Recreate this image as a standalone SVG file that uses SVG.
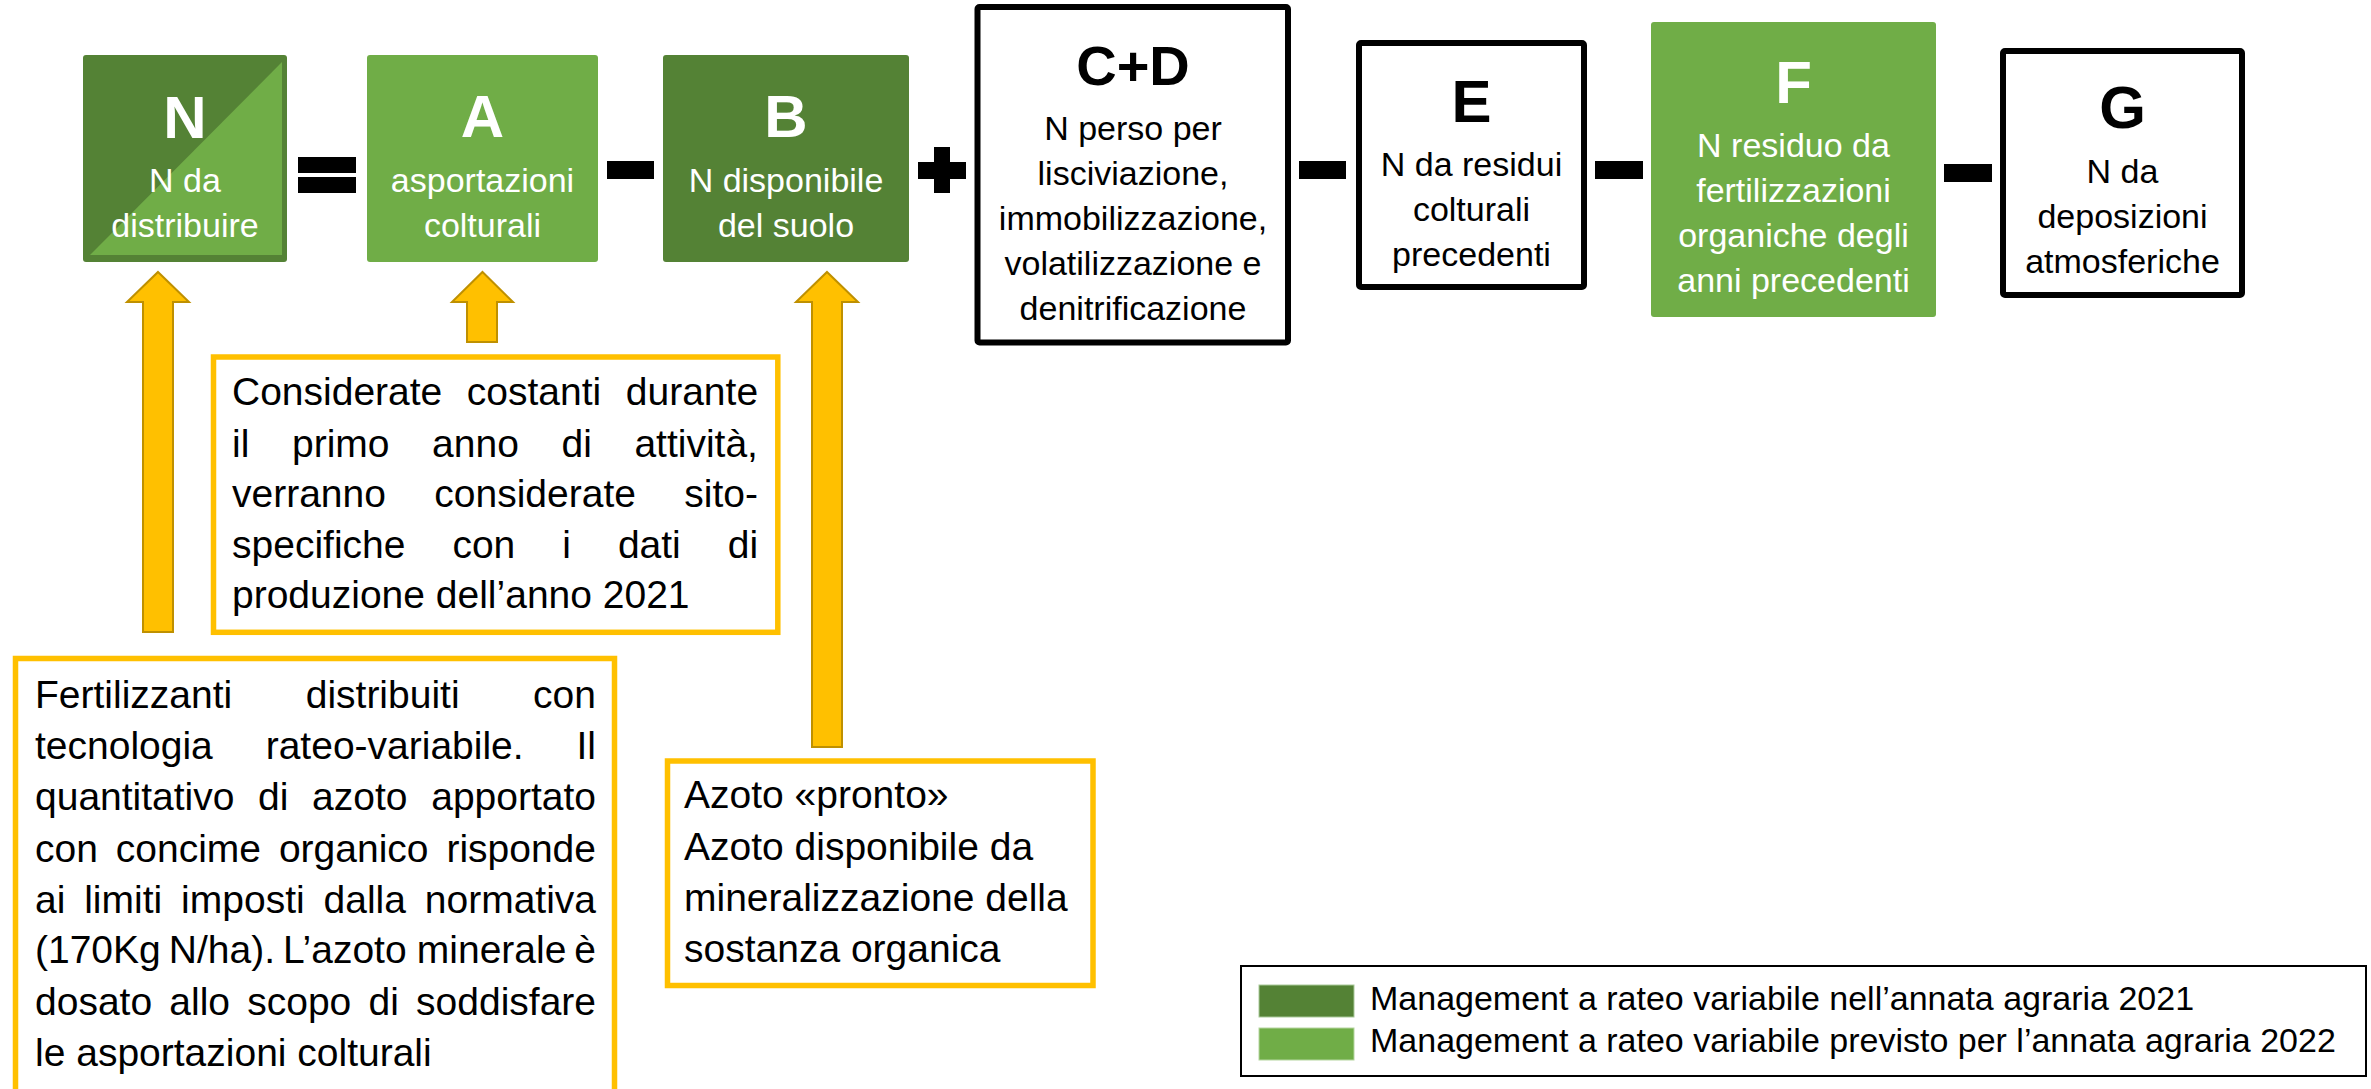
<svg xmlns="http://www.w3.org/2000/svg" width="2371" height="1089" viewBox="0 0 2371 1089">
<style>
text{font-family:"Liberation Sans",Arial,sans-serif}
.dark{fill:#548235}
.light{fill:#70AD47}
.big{font-size:60px;font-weight:bold;text-anchor:middle}
.lbl{font-size:34px;text-anchor:middle}
.w{fill:#fff}
.k{fill:#000}
.frame{fill:#fff;stroke:#000;stroke-width:6}
.call{fill:#fff;stroke:#FFC000;stroke-width:5.5}
.ct{font-size:39px;fill:#000}
.op{fill:#000}
.arrow{fill:#FFC000;stroke:#BF9000;stroke-width:2;stroke-linejoin:miter}
.leg{font-size:34px;fill:#000}
</style>
<rect width="2371" height="1089" fill="#fff"/>

<g id="node-N">
<rect class="dark" x="83" y="55" width="204" height="207" rx="3"/>
<polygon class="light" points="90,255 282,62 282,255"/>
<text class="big w" x="185" y="138">N</text>
<text class="lbl w" x="185" y="192">N da</text>
<text class="lbl w" x="185" y="237">distribuire</text>
</g>

<g id="node-A">
<rect class="light" x="367" y="55" width="231" height="207" rx="3"/>
<text class="big w" x="482.5" y="137">A</text>
<text class="lbl w" x="482.5" y="192">asportazioni</text>
<text class="lbl w" x="482.5" y="237">colturali</text>
</g>

<g id="node-B">
<rect class="dark" x="663" y="55" width="246" height="207" rx="3"/>
<text class="big w" x="786" y="137">B</text>
<text class="lbl w" x="786" y="192">N disponibile</text>
<text class="lbl w" x="786" y="237">del suolo</text>
</g>

<g id="node-CD">
<rect class="frame" x="977.5" y="7" width="310.5" height="335.5" rx="2"/>
<text class="big k" x="1133" y="85" style="font-size:56px">C+D</text>
<text class="lbl k" x="1133" y="140">N perso per</text>
<text class="lbl k" x="1133" y="185">lisciviazione,</text>
<text class="lbl k" x="1133" y="230">immobilizzazione,</text>
<text class="lbl k" x="1133" y="275">volatilizzazione e</text>
<text class="lbl k" x="1133" y="320">denitrificazione</text>
</g>

<g id="node-E">
<rect class="frame" x="1359" y="43" width="225" height="244" rx="2"/>
<text class="big k" x="1471.5" y="122">E</text>
<text class="lbl k" x="1471.5" y="176">N da residui</text>
<text class="lbl k" x="1471.5" y="221">colturali</text>
<text class="lbl k" x="1471.5" y="266">precedenti</text>
</g>

<g id="node-F">
<rect class="light" x="1651" y="22" width="285" height="295" rx="3"/>
<text class="big w" x="1793.5" y="103">F</text>
<text class="lbl w" x="1793.5" y="157">N residuo da</text>
<text class="lbl w" x="1793.5" y="202">fertilizzazioni</text>
<text class="lbl w" x="1793.5" y="247">organiche degli</text>
<text class="lbl w" x="1793.5" y="292">anni precedenti</text>
</g>

<g id="node-G">
<rect class="frame" x="2003" y="51" width="239" height="244" rx="2"/>
<text class="big k" x="2122.5" y="128">G</text>
<text class="lbl k" x="2122.5" y="183">N da</text>
<text class="lbl k" x="2122.5" y="228">deposizioni</text>
<text class="lbl k" x="2122.5" y="273">atmosferiche</text>
</g>

<g id="operators">
<rect class="op" x="298" y="157" width="58" height="16"/>
<rect class="op" x="298" y="177" width="58" height="16"/>
<rect class="op" x="607" y="161" width="47" height="18"/>
<rect class="op" x="934" y="147" width="16" height="46"/>
<rect class="op" x="918" y="162" width="48" height="17"/>
<rect class="op" x="1299" y="161" width="47" height="18"/>
<rect class="op" x="1595" y="161" width="48" height="18"/>
<rect class="op" x="1944" y="164" width="48" height="18"/>
</g>

<g id="note-costanti">
<rect class="call" x="213.5" y="357" width="564.3" height="275.3"/>
<text class="ct" y="405"><tspan x="232">Considerate</tspan><tspan x="466.8">costanti</tspan><tspan x="625.8">durante</tspan></text>
<text class="ct" y="457"><tspan x="232">il</tspan><tspan x="292">primo</tspan><tspan x="432.1">anno</tspan><tspan x="561.5">di</tspan><tspan x="634.4">attività,</tspan></text>
<text class="ct" y="507"><tspan x="232">verranno</tspan><tspan x="434.3">considerate</tspan><tspan x="684.3">sito-</tspan></text>
<text class="ct" y="558"><tspan x="232">specifiche</tspan><tspan x="452.4">con</tspan><tspan x="562.2">i</tspan><tspan x="617.9">dati</tspan><tspan x="727.7">di</tspan></text>
<text class="ct" x="232" y="608">produzione dell’anno 2021</text>
</g>

<g id="note-fertilizzanti">
<rect class="call" x="15.5" y="658.5" width="599" height="460"/>
<text class="ct" y="708"><tspan x="35">Fertilizzanti</tspan><tspan x="305.7">distribuiti</tspan><tspan x="533.1">con</tspan></text>
<text class="ct" y="759"><tspan x="35">tecnologia</tspan><tspan x="265.7">rateo-variabile.</tspan><tspan x="576.5">Il</tspan></text>
<text class="ct" y="810"><tspan x="35">quantitativo</tspan><tspan x="258.1">di</tspan><tspan x="312.1">azoto</tspan><tspan x="431.2">apportato</tspan></text>
<text class="ct" y="862"><tspan x="35">con</tspan><tspan x="115.8">concime</tspan><tspan x="278.9">organico</tspan><tspan x="446.4">risponde</tspan></text>
<text class="ct" y="913"><tspan x="35">ai</tspan><tspan x="84.2">limiti</tspan><tspan x="181.1">imposti</tspan><tspan x="323.5">dalla</tspan><tspan x="424.8">normativa</tspan></text>
<text class="ct" y="963"><tspan x="35">(170Kg</tspan><tspan x="168.8">N/ha).</tspan><tspan x="283">L’azoto</tspan><tspan x="416.8">minerale</tspan><tspan x="574.3">è</tspan></text>
<text class="ct" y="1015"><tspan x="35">dosato</tspan><tspan x="169.3">allo</tspan><tspan x="247.2">scopo</tspan><tspan x="368.5">di</tspan><tspan x="416.1">soddisfare</tspan></text>
<text class="ct" x="35" y="1066">le asportazioni colturali</text>
</g>

<g id="note-azoto">
<rect class="call" x="667.5" y="761" width="425.5" height="224.5"/>
<text class="ct" x="684" y="808">Azoto «pronto»</text>
<text class="ct" x="684" y="860">Azoto disponibile da</text>
<text class="ct" x="684" y="911">mineralizzazione della</text>
<text class="ct" x="684" y="962">sostanza organica</text>
</g>

<g id="connectors">
<polygon class="arrow" points="158,272 189,302 173,302 173,632 143,632 143,302 127,302"/>
<polygon class="arrow" points="482.5,272 513,302 497,302 497,342 467,342 467,302 452,302"/>
<polygon class="arrow" points="827,272 858,302 842,302 842,747 812,747 812,302 796,302"/>
</g>

<g id="legend">
<rect x="1241" y="966" width="1125" height="110" fill="#fff" stroke="#000" stroke-width="2"/>
<rect class="dark" x="1259" y="985" width="95" height="32" stroke="#A9C99A" stroke-width="1"/>
<rect class="light" x="1259" y="1028" width="95" height="32" stroke="#B5D6A0" stroke-width="1"/>
<text class="leg" x="1370" y="1010">Management a rateo variabile nell’annata agraria 2021</text>
<text class="leg" x="1370" y="1052">Management a rateo variabile previsto per l’annata agraria 2022</text>
</g>
</svg>
